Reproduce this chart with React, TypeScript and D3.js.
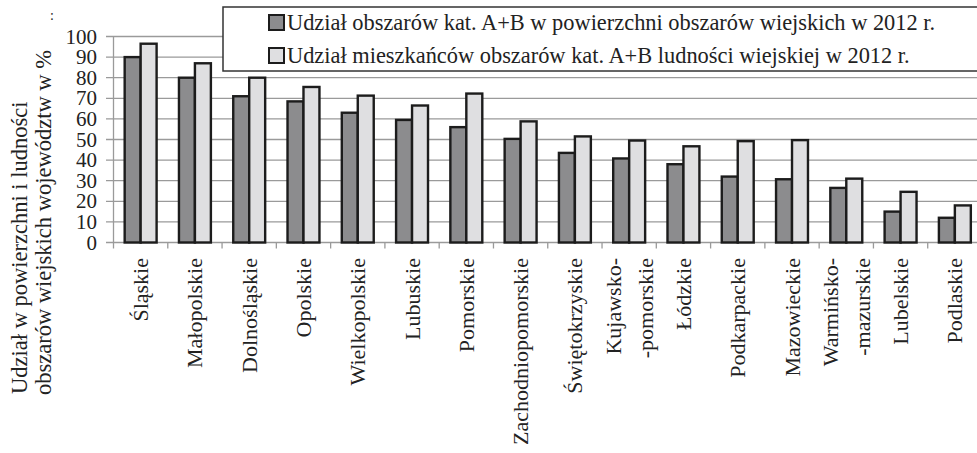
import React from "react";
import * as d3 from "d3";

// voivodeships, "\n" splits a label into two rotated lines
const categories = [
  "Śląskie",
  "Małopolskie",
  "Dolnośląskie",
  "Opolskie",
  "Wielkopolskie",
  "Lubuskie",
  "Pomorskie",
  "Zachodniopomorskie",
  "Świętokrzyskie",
  "Kujawsko-\n-pomorskie",
  "Łódzkie",
  "Podkarpackie",
  "Mazowieckie",
  "Warmińsko-\n-mazurskie",
  "Lubelskie",
  "Podlaskie",
];

const areaShare = [90, 80, 71, 68.5, 63, 59.5, 56, 50.3, 43.5, 40.8, 38, 32, 30.7, 26.5, 15, 12];
const popShare = [96.5, 87, 80, 75.5, 71.3, 66.5, 72.3, 58.8, 51.5, 49.5, 46.7, 49.2, 49.7, 31, 24.6, 18];

const yTicks = [0, 10, 20, 30, 40, 50, 60, 70, 80, 90, 100];

const seriesNames = [
  "Udział obszarów kat. A+B w powierzchni obszarów wiejskich w 2012 r.",
  "Udział mieszkańców obszarów kat. A+B ludności wiejskiej w 2012 r.",
];
const seriesColors = ["#8c8c8e", "#dfdfe1"];

const W = 977;
const H = 453;
const txt = { fontFamily: '"Liberation Serif"', fill: "#222" };

export default function App() {
  const x = d3.scaleBand<string>().domain(categories).range([113.5, 982]).padding(0);
  const x1 = d3
    .scaleBand<string>()
    .domain(["a", "b"])
    .range([0, x.bandwidth()])
    .paddingInner(0)
    .paddingOuter(0.7);
  const y = d3.scaleLinear().domain([0, 100]).range([242.5, 36.5]);

  const rows = categories.map((c, i) => ({ c, vals: [areaShare[i], popShare[i]] }));

  return (
    <svg width={W} height={H} style={{ position: "absolute", left: 0, top: 0, background: "#fff" }}>
      {/* grid */}
      {yTicks.map((t) => (
        <line key={t} x1={106} x2={982} y1={y(t)} y2={y(t)} stroke="#9a9a9a" strokeWidth={1.3} />
      ))}
      <line x1={113.5} x2={113.5} y1={y(100)} y2={y(0)} stroke="#9a9a9a" strokeWidth={1.3} />
      {d3.range(categories.length + 1).map((i) => {
        const px = 113.5 + i * x.step();
        return <line key={i} x1={px} x2={px} y1={y(0)} y2={y(0) + 6} stroke="#9a9a9a" strokeWidth={1.3} />;
      })}

      {/* y tick labels */}
      {yTicks.map((t) => (
        <text key={t} x={97} y={y(t)} dy="0.34em" textAnchor="end" fontSize={21} style={txt}>
          {t}
        </text>
      ))}

      {/* bars */}
      {rows.map((r) => (
        <g key={r.c} transform={`translate(${x(r.c)},0)`}>
          {r.vals.map((v, j) => (
            <rect
              key={j}
              x={x1(j === 0 ? "a" : "b")}
              y={y(v)}
              width={x1.bandwidth()}
              height={y(0) - y(v)}
              fill={seriesColors[j]}
              stroke="#1c1c1c"
              strokeWidth={2.4}
            />
          ))}
        </g>
      ))}

      {/* category labels */}
      {categories.map((c) => {
        const lines = c.split("\n");
        const cx = (x(c) ?? 0) + x.bandwidth() / 2;
        return (
          <g key={c} transform={`translate(${cx},258) rotate(-90)`}>
            {lines.map((ln, k) => (
              <text
                key={k}
                x={0}
                y={(k - (lines.length - 1) / 2) * 32}
                dy="0.34em"
                textAnchor="end"
                fontSize={22}
                style={txt}
              >
                {ln}
              </text>
            ))}
          </g>
        );
      })}

      {/* y title */}
      <text transform="translate(27,394) rotate(-90)" fontSize={22.5} style={txt}>
        Udział w powierzchni i ludności
      </text>
      <text transform="translate(51,395) rotate(-90)" fontSize={22.5} style={txt}>
        obszarów wiejskich województw w %
      </text>
      <text x={50} y={20} fontSize={14} style={txt}>
        :
      </text>

      {/* legend */}
      <rect x={223} y={7} width={770} height={64} fill="#fff" stroke="#333" strokeWidth={1.5} />
      {seriesNames.map((s, i) => (
        <g key={s} transform={`translate(269,${15 + i * 33})`}>
          <rect x={0} y={0} width={15} height={15} fill={seriesColors[i]} stroke="#1c1c1c" strokeWidth={2} />
          <text x={18} y={14.5} fontSize={22.4} style={txt}>
            {s}
          </text>
        </g>
      ))}
    </svg>
  );
}
